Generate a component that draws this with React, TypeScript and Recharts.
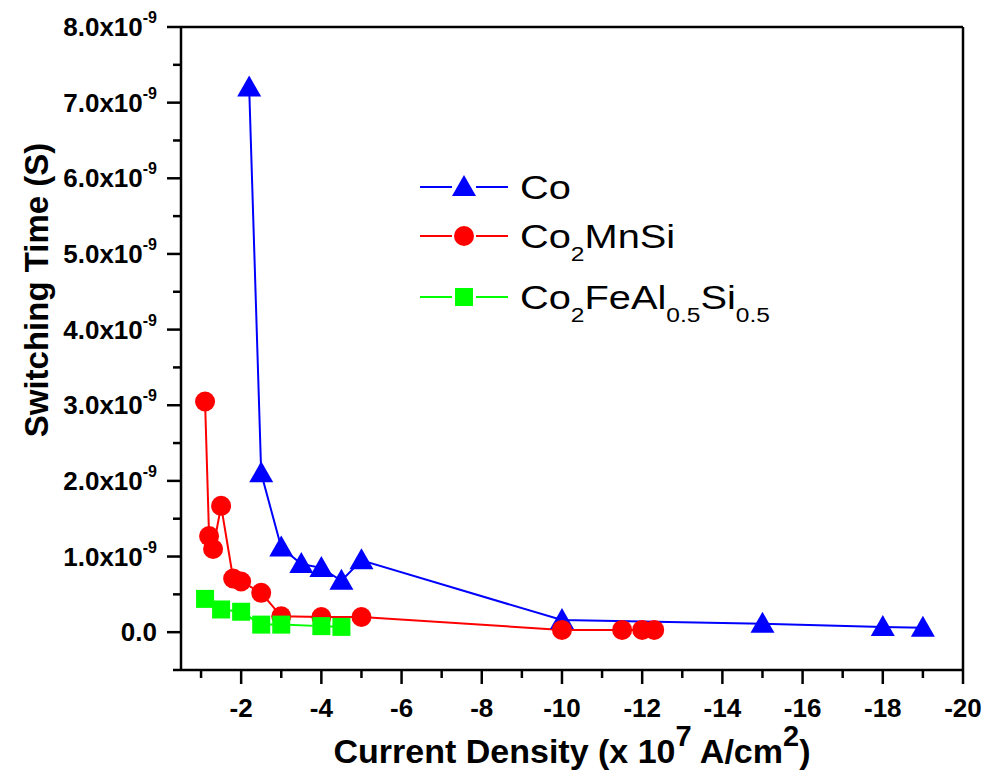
import { LineChart, Line, XAxis, YAxis, Legend, ReferenceLine } from "recharts";

const FONT = '"Liberation Sans", Arial, sans-serif';

// current density in units of 10^7 A/cm^2, switching time in units of 10^-9 s
const coDensity = [-2.2, -2.5, -3, -3.5, -4, -4.5, -5, -10, -15, -18, -19];
const coTime = [7.2, 2.1, 1.12, 0.9, 0.85, 0.68, 0.95, 0.16, 0.11, 0.07, 0.06];

const cmsDensity = [-1.1, -1.2, -1.3, -1.5, -1.8, -2, -2.5, -3, -4, -5, -10, -11.5, -12, -12.3];
const cmsTime = [3.05, 1.27, 1.1, 1.67, 0.71, 0.67, 0.52, 0.21, 0.2, 0.2, 0.03, 0.03, 0.03, 0.03];

const cfasDensity = [-1.1, -1.5, -2, -2.5, -3, -4, -4.5];
const cfasTime = [0.44, 0.3, 0.27, 0.1, 0.1, 0.08, 0.07];

const xTicks = [-1, -2, -3, -4, -5, -6, -7, -8, -9, -10, -11, -12, -13, -14, -15, -16, -17, -18, -19, -20];
const yTicks = [-0.5, 0, 0.5, 1, 1.5, 2, 2.5, 3, 3.5, 4, 4.5, 5, 5.5, 6, 6.5, 7, 7.5, 8];

const toPoints = (xs: number[], ys: number[]) => xs.map((x, i) => ({ x, y: ys[i] }));

const coData = toPoints(coDensity, coTime);
const cmsData = toPoints(cmsDensity, cmsTime);
const cfasData = toPoints(cfasDensity, cfasTime);

const BLUE = "#0000ff";
const RED = "#ff0000";
const GREEN = "#00ff00";

const Triangle = ({ cx, cy, fill }: any) => (
  <polygon points={`${cx},${cy - 12} ${cx - 12},${cy + 9} ${cx + 12},${cy + 9}`} fill={fill} />
);
const Circle = ({ cx, cy, fill }: any) => <circle cx={cx} cy={cy} r={10} fill={fill} />;
const Square = ({ cx, cy, fill }: any) => <rect x={cx - 9} y={cy - 9} width={18} height={18} fill={fill} />;

const XTick = ({ x, y, payload }: any) => {
  const v = payload.value;
  const major = v % 2 === 0;
  return (
    <g>
      <line x1={x} x2={x} y1={y} y2={y + (major ? 14 : 8)} stroke="#000" strokeWidth={2.5} />
      {major && (
        <text x={x} y={y + 47} textAnchor="middle" fontFamily={FONT} fontWeight="bold" fontSize={26} fill="#000">
          {v}
        </text>
      )}
    </g>
  );
};

const YTick = ({ x, y, payload }: any) => {
  const v = payload.value;
  const major = Number.isInteger(v);
  return (
    <g>
      <line x1={x} x2={x - (major ? 14 : 8)} y1={y} y2={y} stroke="#000" strokeWidth={2.5} />
      {major && (
        <text x={x - 24} y={y + 9} textAnchor="end" fontFamily={FONT} fontWeight="bold" fontSize={26} fill="#000">
          {v === 0 ? (
            "0.0"
          ) : (
            <>
              {v.toFixed(1)}x10
              <tspan dy={-13} fontSize={16}>-9</tspan>
            </>
          )}
        </text>
      )}
    </g>
  );
};

const XTitle = ({ viewBox }: any) => {
  const cx = viewBox.x + viewBox.width / 2;
  return (
    <text x={cx} y={763} textAnchor="middle" fontFamily={FONT} fontWeight="bold" fontSize={34} fill="#000">
      Current Density (x 10
      <tspan dy={-17} fontSize={29}>7</tspan>
      <tspan dy={17}> A/cm</tspan>
      <tspan dy={-17} fontSize={29}>2</tspan>
      <tspan dy={17}>)</tspan>
    </text>
  );
};

const YTitle = () => (
  <text
    x={0}
    y={0}
    transform="translate(48, 290) rotate(-90)"
    textAnchor="middle"
    fontFamily={FONT}
    fontWeight="bold"
    fontSize={33}
    fill="#000"
  >
    Switching Time (S)
  </text>
);

const legendRows = [
  { color: BLUE, marker: "triangle", parts: [["Co", ""]] },
  { color: RED, marker: "circle", parts: [["Co", "2"], ["MnSi", ""]] },
  { color: GREEN, marker: "square", parts: [["Co", "2"], ["FeAl", "0.5"], ["Si", "0.5"]] },
];
const legendRowY = [27, 76, 137];

const renderLegend = () => (
  <svg width={400} height={180}>
    {legendRows.map((row, i) => {
      const cy = legendRowY[i];
      const m = 54;
      return (
        <g key={row.color}>
          <line x1={10} x2={m - 12} y1={cy} y2={cy} stroke={row.color} strokeWidth={2} />
          <line x1={m + 12} x2={98} y1={cy} y2={cy} stroke={row.color} strokeWidth={2} />
          {row.marker === "triangle" && <Triangle cx={m} cy={cy} fill={row.color} />}
          {row.marker === "circle" && <Circle cx={m} cy={cy} fill={row.color} />}
          {row.marker === "square" && <Square cx={m} cy={cy} fill={row.color} />}
          <text
            x={0}
            y={0}
            transform={`translate(110, ${cy + 12}) scale(1.17, 1)`}
            fontFamily={FONT}
            fontSize={34}
            fill="#000"
          >
            {row.parts.map(([main, sub], j) => (
              <tspan key={j}>
                <tspan dy={j === 0 ? 0 : -13}>{main}</tspan>
                <tspan dy={13} fontSize={21}>
                  {sub}
                </tspan>
              </tspan>
            ))}
          </text>
        </g>
      );
    })}
  </svg>
);

export default function App() {
  return (
    <div style={{ position: "absolute", left: 0, top: 0, background: "#fff" }}>
      <LineChart width={991} height={776} margin={{ top: 27, right: 28, bottom: 0, left: 0 }}>
        <XAxis
          dataKey="x"
          type="number"
          domain={[-20, -0.5]}
          reversed
          allowDataOverflow
          ticks={xTicks}
          interval={0}
          height={106}
          tickSize={0}
          tickMargin={0}
          tickLine={false}
          axisLine={{ stroke: "#000", strokeWidth: 2.5 }}
          tick={<XTick />}
          label={<XTitle />}
        />
        <YAxis
          type="number"
          domain={[-0.5, 8]}
          allowDataOverflow
          ticks={yTicks}
          interval={0}
          width={181}
          tickSize={0}
          tickMargin={0}
          tickLine={false}
          axisLine={{ stroke: "#000", strokeWidth: 2.5 }}
          tick={<YTick />}
          label={<YTitle />}
        />
        <ReferenceLine y={8} stroke="#000" strokeWidth={2.5} />
        <ReferenceLine x={-20} stroke="#000" strokeWidth={2.5} />
        <Line
          data={coData}
          dataKey="y"
          name="Co"
          stroke={BLUE}
          strokeWidth={2}
          isAnimationActive={false}
          dot={(p: any) => <Triangle key={`co-${p.index}`} cx={p.cx} cy={p.cy} fill={BLUE} />}
        />
        <Line
          data={cmsData}
          dataKey="y"
          name="Co2MnSi"
          stroke={RED}
          strokeWidth={2}
          isAnimationActive={false}
          dot={(p: any) => <Circle key={`cms-${p.index}`} cx={p.cx} cy={p.cy} fill={RED} />}
        />
        <Line
          data={cfasData}
          dataKey="y"
          name="Co2FeAl0.5Si0.5"
          stroke={GREEN}
          strokeWidth={2}
          isAnimationActive={false}
          dot={(p: any) => <Square key={`cfas-${p.index}`} cx={p.cx} cy={p.cy} fill={GREEN} />}
        />
        <Legend
          layout="vertical"
          align="center"
          verticalAlign="middle"
          wrapperStyle={{ left: 410, top: 160, width: 400, height: 180 }}
          content={renderLegend}
        />
      </LineChart>
    </div>
  );
}
